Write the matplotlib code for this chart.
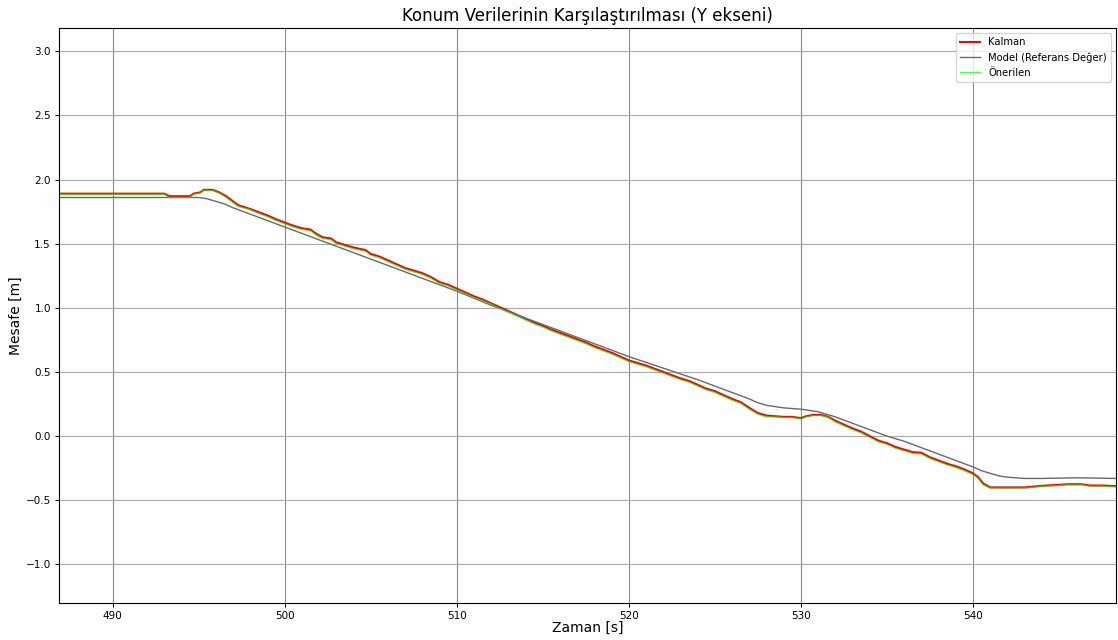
import matplotlib
matplotlib.use("Agg")
import matplotlib.pyplot as plt

# Model (reference) trajectory
t_model = [486.9, 490.0, 493.0, 495.0, 495.5, 496.0, 496.5, 497.0, 498.0, 499.0,
           500.0, 502.0, 504.0, 506.0, 508.0, 510.0, 512.0, 514.0, 516.0, 518.0,
           520.0, 522.0, 524.0, 525.0, 526.0, 527.0, 527.5, 528.0, 529.0, 530.0,
           531.0, 532.0, 533.0, 534.0, 535.0, 536.0, 537.0, 538.0, 539.0, 540.0,
           540.5, 541.0, 541.5, 542.0, 543.0, 544.0, 546.0, 548.3]
y_model = [1.86, 1.86, 1.86, 1.86, 1.85, 1.83, 1.81, 1.78, 1.73, 1.68,
           1.63, 1.53, 1.43, 1.33, 1.23, 1.13, 1.02, 0.92, 0.82, 0.72,
           0.62, 0.53, 0.44, 0.39, 0.34, 0.29, 0.26, 0.24, 0.22, 0.21,
           0.19, 0.15, 0.10, 0.05, 0.00, -0.04, -0.09, -0.14, -0.19, -0.24,
           -0.27, -0.29, -0.31, -0.32, -0.33, -0.33, -0.325, -0.33]

# Estimated trajectories (Kalman and proposed method)
t_est = [486.9, 493.0, 493.3, 494.5, 494.7, 495.1, 495.3, 495.8, 496.2, 496.6,
         497.0, 497.3, 498.0, 498.5, 499.0, 499.5, 500.0, 500.5, 501.0, 501.5,
         501.8, 502.2, 502.7, 503.0, 503.5, 504.0, 504.7, 505.0, 505.5, 506.0,
         506.5, 507.0, 507.5, 508.0, 508.5, 509.0, 509.5, 510.0, 510.5, 511.0,
         511.5, 512.0, 512.5, 513.0, 513.5, 514.0, 514.5, 515.0, 515.5, 516.0,
         516.5, 517.0, 517.5, 518.0, 518.5, 519.0, 519.5, 520.0, 520.5, 521.0,
         521.5, 522.0, 522.5, 523.0, 523.5, 524.0, 524.5, 525.0, 525.5, 526.0,
         526.5, 527.0, 527.5, 528.0, 528.5, 529.0, 529.5, 530.0, 530.3, 530.7,
         531.2, 531.6, 532.0, 532.5, 533.0, 533.5, 534.0, 534.5, 535.0, 535.5,
         536.0, 536.5, 537.0, 537.5, 538.0, 538.5, 539.0, 539.5, 540.0, 540.3,
         540.6, 541.0, 542.0, 543.0, 543.8, 544.3, 545.0, 545.5, 546.3, 546.8,
         547.5, 548.3]
y_kalman = [1.89, 1.89, 1.87, 1.87, 1.89, 1.90, 1.92, 1.92, 1.90, 1.87,
            1.83, 1.80, 1.77, 1.745, 1.72, 1.69, 1.665, 1.64, 1.62, 1.61,
            1.58, 1.55, 1.54, 1.51, 1.49, 1.47, 1.45, 1.42, 1.40, 1.37,
            1.34, 1.31, 1.29, 1.27, 1.24, 1.20, 1.18, 1.15, 1.12, 1.09,
            1.065, 1.035, 1.005, 0.975, 0.945, 0.915, 0.885, 0.86, 0.83, 0.805,
            0.78, 0.755, 0.73, 0.70, 0.675, 0.65, 0.62, 0.59, 0.57, 0.55,
            0.525, 0.50, 0.475, 0.45, 0.43, 0.40, 0.37, 0.35, 0.32, 0.29,
            0.265, 0.22, 0.18, 0.16, 0.155, 0.15, 0.15, 0.14, 0.155, 0.165,
            0.165, 0.15, 0.12, 0.09, 0.06, 0.035, 0.00, -0.035, -0.055, -0.085,
            -0.105, -0.125, -0.13, -0.165, -0.19, -0.215, -0.235, -0.26, -0.29, -0.32,
            -0.37, -0.40, -0.40, -0.40, -0.39, -0.385, -0.38, -0.375, -0.375, -0.385,
            -0.385, -0.39]
y_proposed = [1.885, 1.885, 1.86, 1.86, 1.885, 1.895, 1.915, 1.915, 1.895, 1.86,
              1.82, 1.79, 1.765, 1.735, 1.71, 1.68, 1.655, 1.63, 1.61, 1.60,
              1.57, 1.54, 1.53, 1.50, 1.48, 1.46, 1.44, 1.41, 1.39, 1.36,
              1.33, 1.30, 1.28, 1.26, 1.23, 1.19, 1.17, 1.14, 1.11, 1.08,
              1.055, 1.03, 0.995, 0.965, 0.935, 0.905, 0.875, 0.85, 0.82, 0.795,
              0.77, 0.745, 0.72, 0.69, 0.665, 0.64, 0.61, 0.58, 0.56, 0.54,
              0.515, 0.49, 0.465, 0.44, 0.42, 0.39, 0.36, 0.34, 0.31, 0.28,
              0.255, 0.21, 0.17, 0.15, 0.15, 0.145, 0.145, 0.135, 0.15, 0.16,
              0.16, 0.145, 0.11, 0.08, 0.05, 0.025, -0.01, -0.045, -0.065, -0.095,
              -0.115, -0.135, -0.14, -0.175, -0.20, -0.225, -0.245, -0.27, -0.30, -0.33,
              -0.38, -0.405, -0.405, -0.405, -0.395, -0.39, -0.385, -0.38, -0.38, -0.39,
              -0.39, -0.395]

x_ticks = [490, 500, 510, 520, 530, 540]
y_ticks = [-1.0, -0.5, 0.0, 0.5, 1.0, 1.5, 2.0, 2.5, 3.0]

fig, ax = plt.subplots(figsize=(11.18, 6.4), dpi=100)
fig.subplots_adjust(left=0.053, right=0.998, top=0.956, bottom=0.058)

ax.plot(t_est, y_kalman, color="red", linewidth=1.5, label="Kalman")
ax.plot(t_model, y_model, color="dimgray", linewidth=1.0, label="Model (Referans Değer)")
ax.plot(t_est, y_proposed, color="lime", linewidth=0.9, alpha=0.7, label="Önerilen")

ax.set_xlim(486.9, 548.3)
ax.set_ylim(-1.3, 3.18)
ax.set_xticks(x_ticks)
ax.set_yticks(y_ticks)
ax.tick_params(labelsize=7.5, length=3, pad=3)
ax.xaxis.grid(True, color="#888888", linewidth=0.8)
ax.yaxis.grid(True, color="#aaaaaa", linewidth=0.8)
ax.set_axisbelow(True)

ax.set_title("Konum Verilerinin Karşılaştırılması (Y ekseni)", fontsize=12, pad=5)
ax.set_xlabel("Zaman [s]", fontsize=10, labelpad=0)
ax.set_ylabel("Mesafe [m]", fontsize=10, labelpad=2)
ax.legend(loc="upper right", fontsize=7.2)

fig.savefig("out.png", dpi=100)
